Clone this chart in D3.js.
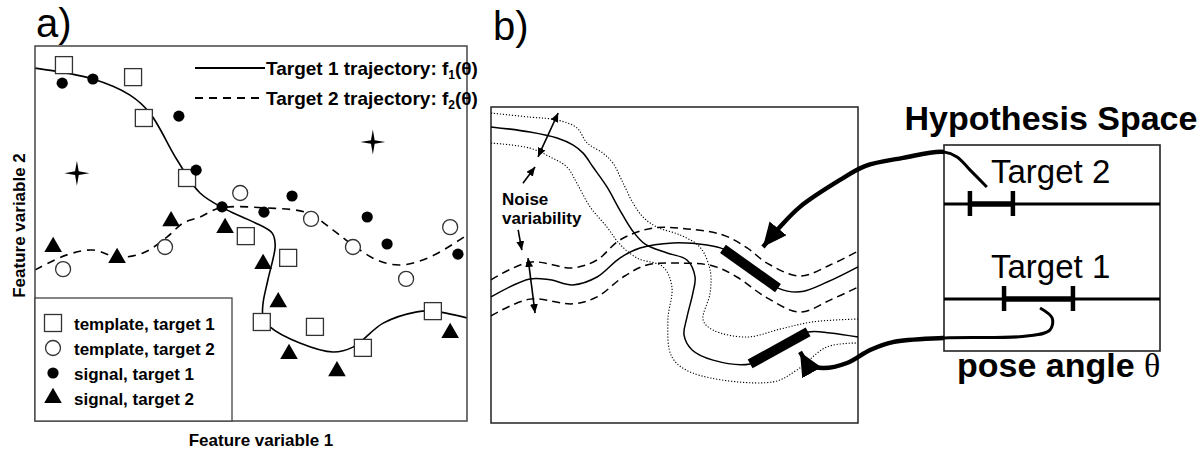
<!DOCTYPE html>
<html>
<head>
<meta charset="utf-8">
<script src="https://cdn.jsdelivr.net/npm/d3@7"></script>
<style>
body { margin: 0; background: #fff; }
text { font-family: "Liberation Sans", Arial, sans-serif; fill: #000; }
</style>
</head>
<body>
<svg id="fig"></svg>
<script>
// ---- panel a: feature space (both axes 0-100) ----
const templateT1 = [[6.7,94.9],[22.7,91.7],[25.2,80.8],[35.2,64.8],[48.8,49.3],[58.6,43.5],[52.5,26.4],[64.8,25.1],[75.9,19.5],[92.1,29.3]];
const templateT2 = [[47.5,60.8],[63.9,53.9],[96.1,51.7],[6.5,40.5],[30.1,46.4],[73.6,46.4],[85.9,37.9]];
const signalT1 = [[6.3,90.1],[13.4,91.2],[33.3,81.3],[37.3,66.9],[43.3,57.1],[53.0,55.7],[59.5,60.0],[76.9,54.4],[81.5,47.2],[97.9,44.5]];
const signalT2 = [[31.5,53.3],[44.0,51.5],[4.2,46.4],[19.0,43.5],[52.8,41.9],[56.3,31.7],[58.8,17.9],[69.9,13.3],[96.1,23.5]];
const outliers = [[9.7,66.1],[78.2,74.4]];
const traj1 = [[0,94.1],[13.4,91.2],[22.0,86.9],[26.6,82.1],[32.9,69.6],[38.2,60.8],[44.4,56.3],[50.5,53.1],[54.9,50.1],[55.6,46.9],[53.9,37.6],[52.8,31.5],[52.8,27.7],[54.4,25.1],[61.3,20.8],[69.0,18.4],[73.6,19.7],[80.6,26.1],[88.4,29.1],[92.1,29.3],[100,27.5]];
const traj2 = [[0,40.3],[7.4,44.3],[13.4,45.6],[19.0,43.7],[25.0,44.8],[30.6,49.1],[34.3,52.8],[38.2,54.4],[42.8,56.8],[53.7,56.8],[63.0,55.5],[69.0,50.9],[72.9,47.5],[79.2,42.9],[84.5,41.6],[91.4,43.7],[100,49.6]];
const legendLabels = ["template, target 1", "template, target 2", "signal, target 1", "signal, target 2"];
const legendKinds = ["square", "circle", "dot", "triangle"];

// ---- panel b: pose curves (0-100 inside the box, links reach past 100) ----
const poseCurve1 = [[0,93.7],[10.6,92.1],[18.0,90.2],[22.3,88.0],[25.1,85.4],[27.8,81.0],[31.6,74.7],[35.1,67.4],[38.4,61.1],[42.0,56.6],[48.0,53.8],[53.4,51.6],[55.6,46.2],[55.0,41.1],[53.4,33.5],[52.6,27.8],[54.8,23.1],[60.5,19.9],[70.6,18.7],[78.5,23.7],[86.4,28.8],[92.4,28.5],[100,27.2]];
const poseCurve2 = [[0,39.9],[10.6,45.6],[16.1,45.3],[22.3,43.7],[28.9,46.2],[35.1,52.2],[40.6,55.4],[49.6,57.0],[58.9,56.3],[63.2,55.1],[70.6,49.1],[78.2,42.7],[84.2,41.5],[91.6,44.6],[100,49.4]];
const band2Upper = [[0,45.3],[10.6,50.9],[22.3,49.1],[28.9,51.6],[35.1,57.9],[44.1,61.7],[53.4,61.4],[63.2,59.5],[69.8,55.4],[75.2,50.6],[84.2,46.5],[92.4,50.0],[100,54.4]];
const band2Lower = [[0,33.9],[10.6,39.2],[22.3,37.7],[28.9,39.9],[36.0,46.2],[42.5,50.0],[51.5,50.6],[60.5,49.7],[67.0,46.2],[75.2,39.6],[84.2,35.1],[92.4,38.9],[100,43.0]];
const band1Upper = [[0,98.1],[10.6,96.8],[18.0,95.9],[23.4,93.4],[26.2,88.6],[30.5,85.4],[33.2,82.3],[36.0,75.9],[38.7,69.6],[41.4,65.2],[45.2,62.0],[51.5,59.5],[56.9,55.7],[59.7,48.4],[59.7,41.1],[57.8,32.6],[60.5,29.4],[69.8,27.2],[78.7,29.7],[87.7,32.0],[100,32.9]];
const band1Lower = [[0,88.6],[10.6,87.0],[16.1,84.2],[20.7,81.0],[23.4,75.9],[27.0,68.4],[31.6,62.0],[35.1,56.6],[39.8,52.2],[46.9,49.4],[49.3,43.0],[48.2,32.6],[49.3,20.9],[55.0,15.8],[76.8,13.0],[83.4,16.8],[91.6,24.1],[100,25.3]];
const poseSegments = [[[63.2,55.1],[78.2,42.7]], [[70.6,18.7],[86.4,28.8]]];
const noiseDouble = [[[12.8,84.2],[18.3,98.1]], [[10.1,52.2],[12.0,34.8]]];
const noisePointers = [[[8.7,75.9],[12.0,81.0]], [[7.4,61.1],[8.4,54.7]]];
const link2 = [[135.1,74.7],[130.5,80.1],[127.0,84.2],[123.2,85.8],[112.3,83.9],[101.9,81.3],[95.1,76.9],[84.2,68.4],[78.7,62.0],[74.1,55.7]];
const link1 = [[149.6,36.4],[152.9,33.2],[152.3,29.4],[146.0,27.5],[123.2,26.9],[109.5,25.6],[103.3,23.1],[97.0,19.0],[90.5,17.4],[86.9,18.4],[84.2,22.5]];

// ---- hypothesis space: pose angle intervals (0-100) ----
const hypTargets = ["Target 2", "Target 1"];
const hypLow = [12.0, 27.8];
const hypHigh = [31.9, 59.7];

const W = 1203, H = 451;
const svg = d3.select("#fig").attr("width", W).attr("height", H);

const defs = svg.append("defs");
function arrowMarker(id, len, half) {
    defs.append("marker")
        .attr("id", id)
        .attr("markerUnits", "userSpaceOnUse")
        .attr("viewBox", `0 ${-half} ${len} ${half * 2}`)
        .attr("refX", len).attr("refY", 0)
        .attr("markerWidth", len).attr("markerHeight", half * 2)
        .attr("orient", "auto-start-reverse")
        .append("path")
        .attr("d", `M0,${-half}L${len},0L0,${half}Z`)
        .attr("fill", "#000");
}
arrowMarker("smallHead", 9, 4);
arrowMarker("bigHead", 24, 11);

// ===== panel a =====
const xa = d3.scaleLinear().domain([0, 100]).range([35, 467]);
const ya = d3.scaleLinear().domain([0, 100]).range([421, 46]);
const ga = svg.append("g");

ga.append("text").attr("x", 36).attr("y", 37).attr("font-size", 40).text("a)");

ga.append("clipPath").attr("id", "clipA")
    .append("rect").attr("x", xa(0)).attr("y", ya(100))
    .attr("width", xa(100) - xa(0)).attr("height", ya(0) - ya(100));

const lineA = d3.line().x(d => xa(d[0])).y(d => ya(d[1])).curve(d3.curveCatmullRom.alpha(0.5));

ga.append("path").datum(traj1).attr("d", lineA)
    .attr("fill", "none").attr("stroke", "#000").attr("stroke-width", 1.6)
    .attr("clip-path", "url(#clipA)");
ga.append("path").datum(traj2).attr("d", lineA)
    .attr("fill", "none").attr("stroke", "#000").attr("stroke-width", 1.6)
    .attr("stroke-dasharray", "8,6")
    .attr("clip-path", "url(#clipA)");

// marker drawing helpers
function drawSquare(sel) {
    sel.append("rect").attr("x", -8.5).attr("y", -8.5).attr("width", 17).attr("height", 17)
        .attr("fill", "#fff").attr("stroke", "#333").attr("stroke-width", 1.3);
}
function drawCircle(sel) {
    sel.append("circle").attr("r", 7.5).attr("fill", "#fff").attr("stroke", "#333").attr("stroke-width", 1.3);
}
function drawDot(sel) {
    sel.append("circle").attr("r", 5.6).attr("fill", "#000");
}
const triPath = d3.symbol().type(d3.symbolTriangle).size(135)();
function drawTriangle(sel) {
    sel.append("path").attr("d", triPath).attr("fill", "#000");
}
const drawers = { square: drawSquare, circle: drawCircle, dot: drawDot, triangle: drawTriangle };

function starPath(R, r) {
    const pts = [];
    for (let i = 0; i < 8; i++) {
        const a = i * Math.PI / 4 - Math.PI / 2;
        const rr = i % 2 ? r : R;
        pts.push([rr * Math.cos(a), rr * Math.sin(a)]);
    }
    return "M" + pts.join("L") + "Z";
}

[[templateT1, "square"], [templateT2, "circle"], [signalT1, "dot"], [signalT2, "triangle"]].forEach(function(s) {
    ga.selectAll(null)
        .data(s[0])
        .enter().append("g")
        .attr("transform", d => `translate(${xa(d[0])},${ya(d[1])})`)
        .each(function() { drawers[s[1]](d3.select(this)); });
});

ga.selectAll(".star")
    .data(outliers)
    .enter().append("path")
    .attr("class", "star")
    .attr("transform", d => `translate(${xa(d[0])},${ya(d[1])})`)
    .attr("d", starPath(12.5, 2.6))
    .attr("fill", "#000");

// frame
ga.append("rect").attr("x", xa(0)).attr("y", ya(100))
    .attr("width", xa(100) - xa(0)).attr("height", ya(0) - ya(100))
    .attr("fill", "none").attr("stroke", "#444").attr("stroke-width", 1.5);

// trajectory legend (top right)
[["", 68, 195, 265], ["8,6", 98, 195, 259]].forEach(function(r, i) {
    ga.append("line").attr("x1", r[2]).attr("x2", r[3]).attr("y1", r[1]).attr("y2", r[1])
        .attr("stroke", "#000").attr("stroke-width", 2.2)
        .attr("stroke-dasharray", r[0] || null);
    const t = ga.append("text").attr("x", 266).attr("y", r[1] + 7)
        .attr("font-size", 19).attr("font-weight", "bold");
    t.append("tspan").text(`Target ${i + 1} trajectory: f`);
    t.append("tspan").attr("font-size", 12).attr("dy", 4).text(i + 1);
    t.append("tspan").attr("dy", -4).text("(θ)");
});

// symbol legend (bottom left)
ga.append("rect").attr("x", xa(0)).attr("y", 298).attr("width", 197).attr("height", ya(0) - 298)
    .attr("fill", "#fff").attr("stroke", "#444").attr("stroke-width", 1.3);
legendLabels.forEach(function(lab, i) {
    const y = 323 + i * 25;
    const g = ga.append("g").attr("transform", `translate(53,${y})`);
    drawers[legendKinds[i]](g);
    ga.append("text").attr("x", 74).attr("y", y + 7)
        .attr("font-size", 17).attr("font-weight", "bold").text(lab);
});

ga.append("text").attr("x", (xa(0) + xa(100)) / 2 + 10).attr("y", 446)
    .attr("text-anchor", "middle").attr("font-size", 17).attr("font-weight", "bold")
    .text("Feature variable 1");
ga.append("text").attr("transform", `translate(25,${(ya(0) + ya(100)) / 2 - 8}) rotate(-90)`)
    .attr("text-anchor", "middle").attr("font-size", 17).attr("font-weight", "bold")
    .text("Feature variable 2");

// ===== panel b =====
const xb = d3.scaleLinear().domain([0, 100]).range([491, 858]);
const yb = d3.scaleLinear().domain([0, 100]).range([423, 107]);
const gb = svg.append("g");
const lineB = d3.line().x(d => xb(d[0])).y(d => yb(d[1])).curve(d3.curveCatmullRom.alpha(0.5));

gb.append("text").attr("x", 493).attr("y", 40).attr("font-size", 40).text("b)");

gb.append("rect").attr("x", xb(0)).attr("y", yb(100))
    .attr("width", xb(100) - xb(0)).attr("height", yb(0) - yb(100))
    .attr("fill", "none").attr("stroke", "#222").attr("stroke-width", 1.5);

[band1Upper, band1Lower].forEach(function(b) {
    gb.append("path").datum(b).attr("d", lineB)
        .attr("fill", "none").attr("stroke", "#000").attr("stroke-width", 1.1)
        .attr("stroke-dasharray", "1.2,1.8");
});
[band2Upper, band2Lower].forEach(function(b) {
    gb.append("path").datum(b).attr("d", lineB)
        .attr("fill", "none").attr("stroke", "#000").attr("stroke-width", 1.5)
        .attr("stroke-dasharray", "8,5");
});
[poseCurve1, poseCurve2].forEach(function(c) {
    gb.append("path").datum(c).attr("d", lineB)
        .attr("fill", "none").attr("stroke", "#000").attr("stroke-width", 1.5);
});

gb.selectAll(".seg")
    .data(poseSegments)
    .enter().append("line")
    .attr("class", "seg")
    .attr("x1", d => xb(d[0][0])).attr("y1", d => yb(d[0][1]))
    .attr("x2", d => xb(d[1][0])).attr("y2", d => yb(d[1][1]))
    .attr("stroke", "#000").attr("stroke-width", 10);

// noise arrows
gb.selectAll(".dbl")
    .data(noiseDouble)
    .enter().append("line")
    .attr("class", "dbl")
    .attr("x1", d => xb(d[0][0])).attr("y1", d => yb(d[0][1]))
    .attr("x2", d => xb(d[1][0])).attr("y2", d => yb(d[1][1]))
    .attr("stroke", "#000").attr("stroke-width", 1.6)
    .attr("marker-start", "url(#smallHead)").attr("marker-end", "url(#smallHead)");
gb.selectAll(".ptr")
    .data(noisePointers)
    .enter().append("line")
    .attr("class", "ptr")
    .attr("x1", d => xb(d[0][0])).attr("y1", d => yb(d[0][1]))
    .attr("x2", d => xb(d[1][0])).attr("y2", d => yb(d[1][1]))
    .attr("stroke", "#000").attr("stroke-width", 1.6)
    .attr("marker-end", "url(#smallHead)");

gb.append("text").attr("x", 502).attr("y", 205).attr("font-size", 17).attr("font-weight", "bold").text("Noise");
gb.append("text").attr("x", 502).attr("y", 224).attr("font-size", 17).attr("font-weight", "bold").text("variability");

// ===== hypothesis space =====
const xh = d3.scaleLinear().domain([0, 100]).range([944, 1160]);
const gh = svg.append("g");
const hypTop = 145, hypBottom = 351;
const rowAxisY = [204, 299];
const rowLabelY = [183, 278];

gh.append("text").attr("x", 1051).attr("y", 130).attr("text-anchor", "middle")
    .attr("font-size", 34).attr("font-weight", "bold").text("Hypothesis Space");
gh.append("rect").attr("x", xh(0)).attr("y", hypTop)
    .attr("width", xh(100) - xh(0)).attr("height", hypBottom - hypTop)
    .attr("fill", "none").attr("stroke", "#222").attr("stroke-width", 1.6);

hypTargets.forEach(function(name, i) {
    const y = rowAxisY[i];
    gh.append("text").attr("x", 991).attr("y", rowLabelY[i]).attr("font-size", 33).text(name);
    gh.append("line").attr("x1", xh(0)).attr("x2", xh(100)).attr("y1", y).attr("y2", y)
        .attr("stroke", "#000").attr("stroke-width", 3.2);
    gh.append("line").attr("x1", xh(hypLow[i])).attr("x2", xh(hypHigh[i])).attr("y1", y).attr("y2", y)
        .attr("stroke", "#000").attr("stroke-width", 5.5);
    [hypLow[i], hypHigh[i]].forEach(function(v) {
        gh.append("line").attr("x1", xh(v)).attr("x2", xh(v)).attr("y1", y - 13).attr("y2", y + 12)
            .attr("stroke", "#000").attr("stroke-width", 4.5);
    });
});

const pose = gh.append("text").attr("x", 957).attr("y", 377).attr("font-size", 34).attr("font-weight", "bold");
pose.append("tspan").text("pose angle ");
pose.append("tspan").attr("font-weight", "normal").attr("font-family", "'Liberation Serif', serif").text("θ");

// links from hypotheses back to pose segments: thick outside the box, thinner inside
defs.append("clipPath").attr("id", "clipOut")
    .append("rect").attr("x", 0).attr("y", 0).attr("width", xh(0)).attr("height", H);
defs.append("clipPath").attr("id", "clipIn")
    .append("rect").attr("x", xh(0)).attr("y", 0).attr("width", W - xh(0)).attr("height", H);
const linkLine = d3.line().x(d => xb(d[0])).y(d => yb(d[1])).curve(d3.curveCatmullRom.alpha(0.5));
[link2, link1].forEach(function(l) {
    svg.append("path").datum(l).attr("d", linkLine)
        .attr("fill", "none").attr("stroke", "#000").attr("stroke-width", 4.4)
        .attr("clip-path", "url(#clipOut)");
    svg.append("path").datum(l).attr("d", linkLine)
        .attr("fill", "none").attr("stroke", "#000").attr("stroke-width", 3)
        .attr("clip-path", "url(#clipIn)");
    svg.append("path").datum(l).attr("d", linkLine)
        .attr("fill", "none").attr("stroke", "none")
        .attr("marker-end", "url(#bigHead)");
});
</script>
</body>
</html>
